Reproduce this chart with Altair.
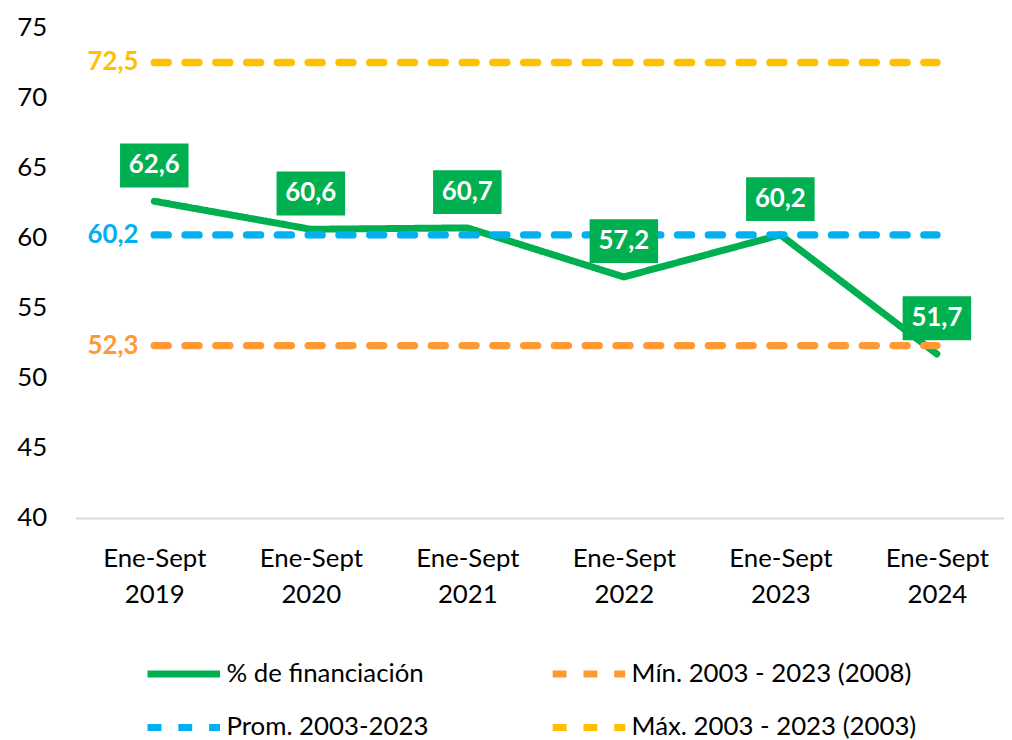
import altair as alt
import pandas as pd

categories = ["Ene-Sept 2019", "Ene-Sept 2020", "Ene-Sept 2021",
              "Ene-Sept 2022", "Ene-Sept 2023", "Ene-Sept 2024"]
financiacion = [62.6, 60.6, 60.7, 57.2, 60.2, 51.7]
main_name = "% de financiación"
ref_names = ["Mín. 2003 - 2023 (2008)", "Prom. 2003-2023", "Máx. 2003 - 2023 (2003)"]
ref_values = [52.3, 60.2, 72.5]
series_order = [main_name] + ref_names
series_colors = ["#00B050", "#FF9933", "#00B0F0", "#FFC000"]
y_ticks = [40, 45, 50, 55, 60, 65, 70, 75]

FONT = "Lato"

main_df = pd.DataFrame({"cat": categories, "value": financiacion, "series": main_name})
ref_rows = []
for name, v in zip(ref_names, ref_values):
    for c in categories:
        ref_rows.append({"cat": c, "value": v, "series": name})
ref_df = pd.DataFrame(ref_rows)

x_enc = alt.X(
    "cat:N", sort=categories,
    scale=alt.Scale(type="point", padding=0.466, align=0.54),
    axis=alt.Axis(title=None, labelExpr="split(datum.value, ' ')", labelAngle=0,
                  labelFontSize=26, labelFont=FONT, labelColor="#000000",
                  labelPadding=28, labelLineHeight=36, domainColor="#D9D9D9",
                  domainWidth=2, ticks=False, grid=False),
)
y_enc = alt.Y(
    "value:Q",
    scale=alt.Scale(domain=[40, 75], nice=False, zero=False),
    axis=alt.Axis(title=None, values=y_ticks, labelFontSize=26, labelFont=FONT,
                  labelColor="#000000", labelPadding=29, domain=False, ticks=False,
                  grid=False),
)

legend = alt.Legend(
    title=None, orient="none", legendX=69, legendY=611, columns=2,
    direction="horizontal",
    columnPadding=110, rowPadding=-28, symbolType="stroke", symbolSize=5329,
    symbolStrokeWidth=7, labelFontSize=26, labelFont=FONT, labelColor="#000000",
    labelOffset=3, labelLimit=400,
)
color_enc = alt.Color("series:N", scale=alt.Scale(domain=series_order, range=series_colors),
                      legend=legend)
dash_enc = alt.StrokeDash("series:N",
                          scale=alt.Scale(domain=series_order,
                                          range=[[1, 0], [14, 17], [14, 17], [14, 17]]),
                          legend=legend)

main_line = alt.Chart(main_df).mark_line(strokeWidth=7, strokeCap="round",
                                         strokeJoin="round").encode(
    x=x_enc, y=y_enc, color=color_enc, strokeDash=dash_enc)

ref_lines = alt.Chart(ref_df).mark_line(strokeWidth=7.5, strokeCap="round").encode(
    x=x_enc, y=y_enc, color=color_enc, strokeDash=dash_enc)

boxes = alt.Chart(main_df).mark_point(
    shape="M-1,-0.64H1V0.64H-1Z", size=4761, filled=True, opacity=1,
    color="#00B050", strokeWidth=0, yOffset=-36).encode(x=x_enc, y=y_enc)

box_text = alt.Chart(main_df).transform_calculate(
    label="replace(format(datum.value, '.1f'), '.', ',')"
).mark_text(dy=-36, color="white", fontSize=26, fontWeight="bold", font=FONT,
            baseline="middle", align="center").encode(x=x_enc, y=y_enc, text="label:N")

ref_text_layers = []
for i, name in enumerate(ref_names):
    d = ref_df[(ref_df["series"] == name) & (ref_df["cat"] == categories[0])]
    ref_text_layers.append(
        alt.Chart(d).transform_calculate(
            label="replace(format(datum.value, '.1f'), '.', ',')"
        ).mark_text(align="right", baseline="middle", dx=-16, fontSize=26,
                    fontWeight="bold", font=FONT, color=series_colors[i + 1]).encode(
            x=x_enc, y=y_enc, text="label:N")
    )

chart = alt.layer(main_line, ref_lines, boxes, box_text, *ref_text_layers).properties(
    width=935, height=494,
    padding={"left": 68, "top": 17, "right": 0, "bottom": 225},
    autosize=alt.AutoSizeParams(type="none"),
    background="white",
).configure_view(stroke=None)

chart.save("out.html", embed_options={"renderer": "svg", "actions": False})
